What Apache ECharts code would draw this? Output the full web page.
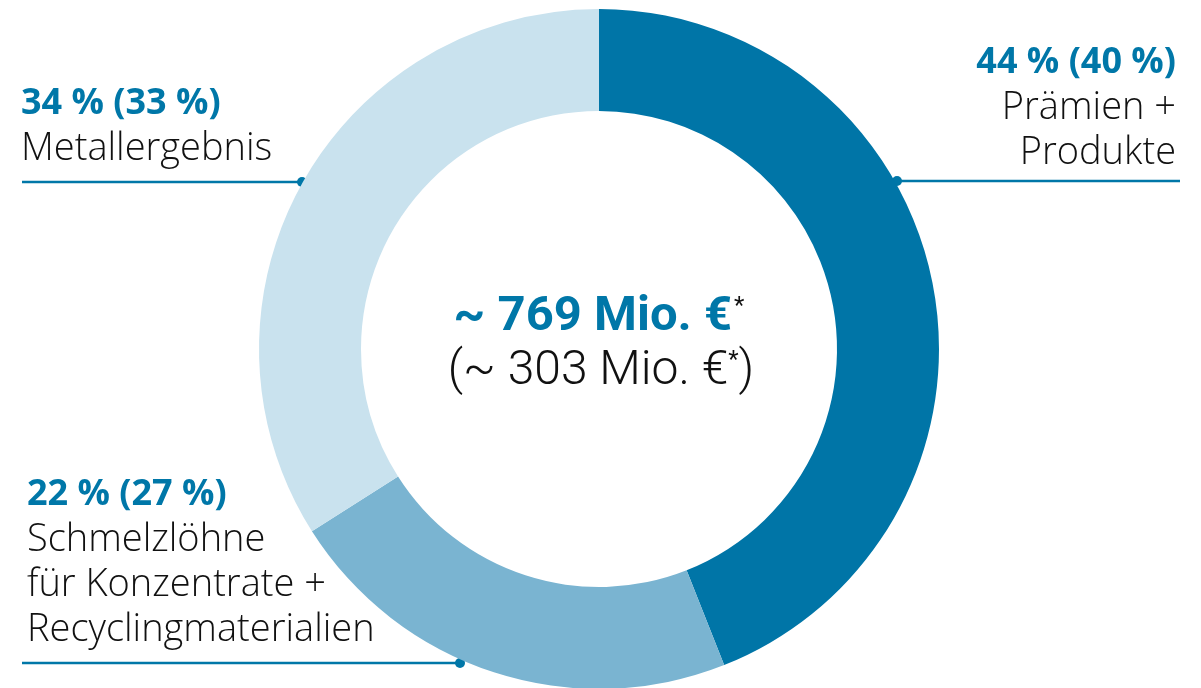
<!DOCTYPE html>
<html>
<head>
<meta charset="utf-8">
<script src="https://cdn.jsdelivr.net/npm/echarts@6/dist/echarts.min.js"></script>
<style>
  html, body { margin: 0; padding: 0; background: #fff; }
  #chart { width: 1201px; height: 688px; }
</style>
</head>
<body>
<div id="chart"></div>
<script>
// Werte aus der Grafik
const categories = [
    ["Prämien +", "Produkte"],
    ["Schmelzlöhne", "für Konzentrate +", "Recyclingmaterialien"],
    ["Metallergebnis"]
];
const shares = [44, 22, 34];
const priorShares = [40, 27, 33];
const totalNow = 769;
const totalPrior = 303;

const colors = ["#0075a7", "#7ab4d1", "#c9e2ee"];
const blue = "#0077a8";
const font = "'Open Sans', Roboto, sans-serif";
const fontCenter = "Roboto, 'Liberation Sans', sans-serif";

// Position der Beschriftungen (Anker, Ausrichtung, Leitlinie)
const labelPos = [
    { x: 1176, y: 63, align: "right", line: [897, 181, 1180, 181], dot: 897 },
    { x: 27, y: 495, align: "left", line: [22, 663, 460, 663], dot: 460 },
    { x: 21, y: 104, align: "left", line: [22, 182, 302, 182], dot: 302 }
];

const buildGraphics = () => {
    const g = [];
    categories.forEach((lines, i) => {
        const p = labelPos[i];
        g.push({
            type: "text", x: p.x, y: p.y,
            style: {
                text: shares[i] + " % (" + priorShares[i] + " %)",
                font: "bold 36px " + font, fill: blue,
                textAlign: p.align, textVerticalAlign: "middle"
            }
        });
        lines.forEach((t, j) => {
            g.push({
                type: "text", x: p.x, y: p.y + 45 * (j + 1),
                style: {
                    text: t, font: "300 38px " + font, fill: "#111",
                    textAlign: p.align, textVerticalAlign: "middle"
                }
            });
        });
        const l = p.line;
        g.push({
            type: "line",
            shape: { x1: l[0], y1: l[1], x2: l[2], y2: l[3] },
            style: { stroke: blue, lineWidth: 2.5 }
        });
        g.push({
            type: "circle",
            shape: { cx: p.dot, cy: l[1], r: 5 },
            style: { fill: blue }
        });
    });
    g.push({
        type: "text", x: 599, y: 318,
        style: {
            text: "{b|~ " + totalNow + " Mio. €}{s|*}",
            textAlign: "center", textVerticalAlign: "middle",
            rich: {
                b: { font: "bold 49px " + fontCenter, fill: blue },
                s: { font: "24px " + fontCenter, fill: "#111", padding: [0, 0, 22, 2] }
            }
        }
    });
    g.push({
        type: "text", x: 601, y: 372,
        style: {
            text: "{n|(~ " + totalPrior + " Mio. €}{s|*}{n|)}",
            textAlign: "center", textVerticalAlign: "middle",
            rich: {
                n: { font: "300 48px " + fontCenter, fill: "#111" },
                s: { font: "24px " + fontCenter, fill: "#111", padding: [0, 0, 22, 0] }
            }
        }
    });
    return g;
};

const initChart = () => {
    const myChart = echarts.init(document.getElementById("chart"));
    const option = {
        backgroundColor: "#fff",
        animation: false,
        series: [{
            type: "pie",
            center: [599, 349],
            radius: [238, 340],
            startAngle: 90,
            clockwise: true,
            label: { show: false },
            labelLine: { show: false },
            emphasis: { disabled: true },
            itemStyle: { borderWidth: 0 },
            data: shares.map((v, i) => ({
                value: v,
                name: categories[i].join(" "),
                itemStyle: { color: colors[i] }
            }))
        }],
        graphic: buildGraphics()
    };
    myChart.setOption(option);
};

window.addEventListener("load", initChart);
</script>
</body>
</html>
